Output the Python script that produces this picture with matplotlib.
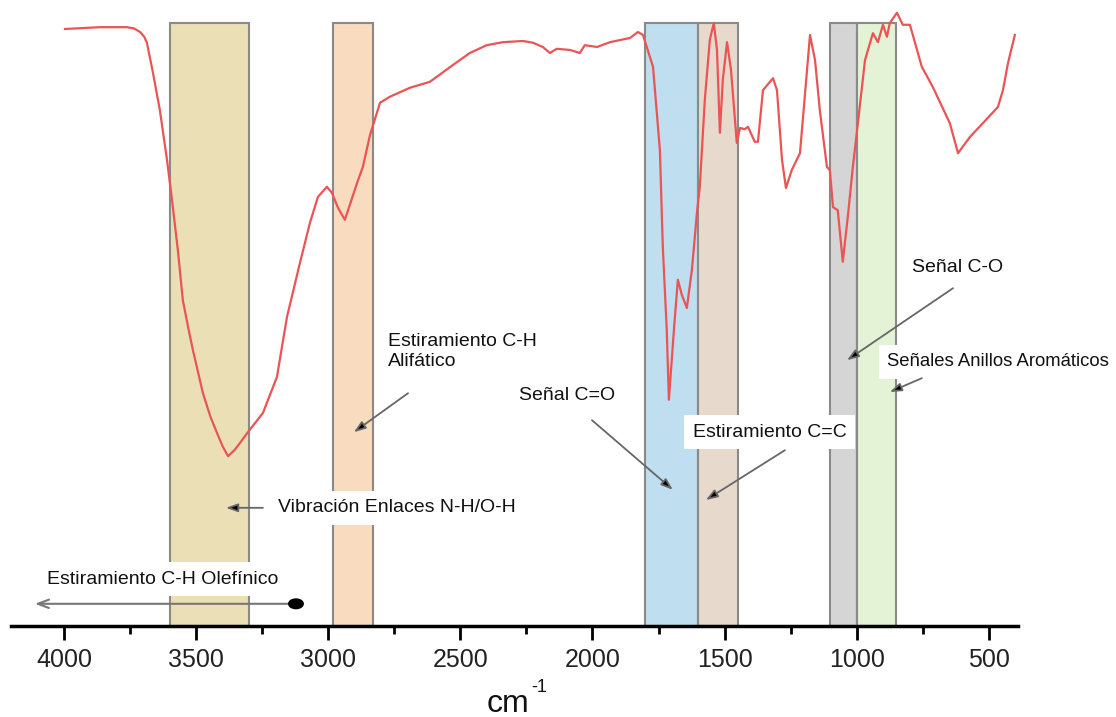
import matplotlib
matplotlib.use("Agg")
import matplotlib.pyplot as plt
from matplotlib.ticker import MultipleLocator
from matplotlib.patches import Rectangle, Ellipse

plt.rcParams['font.family'] = ['Liberation Sans', 'DejaVu Sans']

# espectro FTIR (cm-1, %T arbitrario)
wavenumber = [3996, 3864, 3762, 3735, 3712, 3696, 3686, 3663, 3637, 3610,
              3591, 3569, 3550, 3530, 3512, 3474, 3445, 3421, 3400, 3379,
              3355, 3334, 3304, 3247, 3194, 3156,
              3107, 3069, 3039, 3005, 2986, 2963, 2937, 2918, 2891, 2869,
              2842, 2804, 2767, 2691, 2615, 2528, 2464, 2400, 2339, 2263,
              2225, 2188, 2161, 2135, 2085, 2048, 2029, 1983, 1934, 1858,
              1828, 1809, 1771, 1745, 1734, 1719, 1711, 1692, 1677, 1662,
              1643, 1624, 1605, 1594, 1575, 1556, 1541, 1529, 1518, 1507,
              1491, 1476, 1454, 1442, 1424, 1412, 1386, 1374, 1355, 1317,
              1302, 1283, 1268, 1246, 1215, 1177, 1158, 1140, 1113, 1102,
              1090, 1072, 1053, 1034, 1015, 1000, 969, 939, 920, 901,
              886, 875, 848, 826, 799, 754, 712, 648, 617, 572,
              523, 466, 447, 428, 402]
transmittance = [99.5, 99.8, 99.8, 99.6, 99.0, 98.2, 97.2, 92.2, 86.0, 77.7,
                 71.0, 62.7, 54.3, 49.8, 46.0, 38.8, 34.8, 32.2, 30.0, 28.3,
                 29.3, 30.5, 32.3, 35.5, 41.5, 51.5,
                 60.5, 67.2, 71.5, 73.2, 72.2, 69.7, 67.7, 70.2, 73.8, 76.5,
                 81.8, 87.2, 88.2, 89.7, 90.7, 93.5, 95.5, 96.8, 97.3, 97.5,
                 97.2, 96.5, 95.5, 96.2, 96.0, 95.5, 96.8, 96.5, 97.3, 98.0,
                 99.0, 98.5, 93.2, 79.3, 63.2, 49.3, 37.7, 49.3, 57.7, 55.2,
                 53.0, 59.3, 68.8, 73.2, 87.7, 97.7, 100.5, 96.0, 82.2, 91.0,
                 97.3, 92.7, 80.5, 83.0, 82.8, 83.2, 80.7, 80.7, 89.3, 91.3,
                 89.3, 77.7, 73.0, 76.0, 78.8, 98.5, 94.3, 86.0, 76.5, 76.0,
                 69.8, 69.3, 60.7, 68.2, 76.5, 82.2, 94.3, 98.8, 97.3, 100.2,
                 98.2, 100.5, 102.2, 100.2, 100.2, 93.2, 89.8, 83.8, 78.8, 81.5,
                 83.8, 86.5, 89.3, 93.8, 98.5]

band_hi = [3600, 2980, 1800, 1600, 1100, 1000]
band_lo = [3300, 2830, 1600, 1450, 1000, 850]
band_colors = ['#ebe0b5', '#f9dbbf', '#bfdef0', '#e8d9cd', '#d5d5d5', '#e4f3d6']
band_top = 100.5

fig = plt.figure(figsize=(11.16, 7.17), dpi=100)
ax = fig.add_axes([0.0099, 0.1269, 0.9023, 0.8731])

for hi, lo, c in zip(band_hi, band_lo, band_colors):
    ax.add_patch(Rectangle((lo, 0), hi - lo, band_top, facecolor=c,
                           edgecolor='#8a8a8a', linewidth=1.5, zorder=1))

ax.plot(wavenumber, transmittance, color='#ea5455', linewidth=1.6, zorder=3)

ax.set_xlim(4200, 390)
ax.set_ylim(0, 104.33)
for s in ['left', 'right', 'top']:
    ax.spines[s].set_visible(False)
ax.spines['bottom'].set_linewidth(2.5)
ax.spines['bottom'].set_zorder(5)
ax.set_yticks([])
ax.xaxis.set_major_locator(MultipleLocator(500))
ax.xaxis.set_minor_locator(MultipleLocator(250))
ax.tick_params(axis='x', which='major', length=10, width=2, pad=6,
               labelsize=18, labelcolor='#222222')
ax.tick_params(axis='x', which='minor', length=6, width=2)

# unidad del eje x
fig.text(508 / 1116, 1 - 704 / 717, 'cm', fontsize=23, ha='center',
         va='center', color='#111111')
fig.text(531 / 1116, 1 - 688 / 717, '-1', fontsize=13, ha='left',
         va='center', color='#111111')

box = dict(boxstyle='square,pad=0.45', facecolor='white', edgecolor='none')
arrow = dict(arrowstyle='-|>,head_length=0.7,head_width=0.25',
             fc='black', ec='#666666', lw=1.3, shrinkA=0, shrinkB=0)
fs = 14

# etiquetas con flecha
ax.text(4064, 7.8, 'Estiramiento C-H Olefínico', fontsize=fs, ha='left',
        va='center', bbox=box, zorder=6, color='#111111')
ax.annotate('', xy=(4110, 3.7), xytext=(3122, 3.7),
            arrowprops=dict(arrowstyle='->,head_length=0.8,head_width=0.3',
                            color='#777777', lw=1.5, shrinkA=0, shrinkB=0),
            zorder=6)
ax.add_patch(Ellipse((3122, 3.7), 55, 1.6, color='black', zorder=7))

ax.text(3190, 19.7, 'Vibración Enlaces N-H/O-H', fontsize=fs, ha='left',
        va='center', bbox=box, zorder=6, color='#111111')
ax.annotate('', xy=(3387, 19.7), xytext=(3247, 19.7), arrowprops=arrow, zorder=6)

ax.text(2774, 45.75, 'Estiramiento C-H\nAlifático', fontsize=fs, ha='left',
        va='center', bbox=box, zorder=6, color='#111111', linespacing=1.2)
ax.annotate('', xy=(2903, 32.3), xytext=(2698, 38.8), arrowprops=arrow, zorder=6)

ax.text(2278, 38.5, 'Señal C=O', fontsize=fs, ha='left', va='center',
        bbox=box, zorder=6, color='#111111')
ax.annotate('', xy=(1696, 22.7), xytext=(2002, 34.3), arrowprops=arrow, zorder=6)

ax.text(1620, 32.3, 'Estiramiento C=C', fontsize=fs, ha='left', va='center',
        bbox=box, zorder=6, color='#111111')
ax.annotate('', xy=(1571, 21.0), xytext=(1272, 29.3), arrowprops=arrow, zorder=6)

ax.text(792, 59.7, 'Señal C-O', fontsize=fs, ha='left', va='center',
        bbox=box, zorder=6, color='#111111')
ax.annotate('', xy=(1037, 44.3), xytext=(636, 56.3), arrowprops=arrow, zorder=6)

ax.text(886, 44.0, 'Señales Anillos Aromáticos', fontsize=13.3, ha='left',
        va='center', bbox=box, zorder=6, color='#111111', clip_on=False)
ax.annotate('', xy=(875, 39.0), xytext=(754, 41.3), arrowprops=arrow, zorder=6)

fig.savefig('out.png', dpi=100, facecolor='white')
